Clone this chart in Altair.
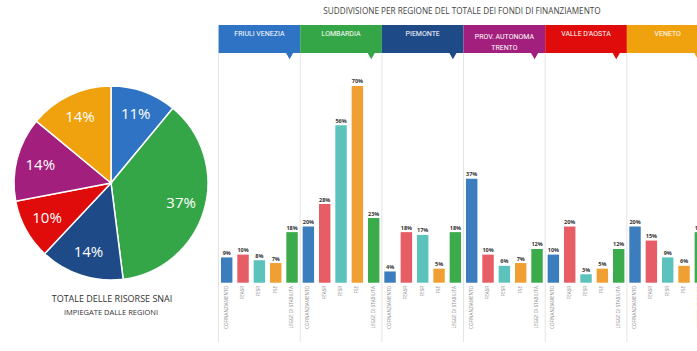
import altair as alt
import pandas as pd

# ---------------- data ----------------
regions = ["Friuli Venezia", "Lombardia", "Piemonte", "Prov. Autonoma Trento", "Valle d'Aosta", "Veneto"]
header_labels = ["FRIULI VENEZIA", "LOMBARDIA", "PIEMONTE", "PROV. AUTONOMA\nTRENTO", "VALLE D'AOSTA", "VENETO"]
categories = ["COFINANZIAMENTO", "FEASR", "FESR", "FSE", "LEGGE DI STABILITÀ"]

cofinanziamento = [9, 20, 4, 37, 10, 20]
feasr = [10, 28, 18, 10, 20, 15]
fesr = [8, 56, 17, 6, 3, 9]
fse = [7, 70, 5, 7, 5, 6]
legge_stabilita = [18, 23, 18, 12, 12, 18]

pie_regions = ["Friuli Venezia", "Lombardia", "Piemonte", "Valle d'Aosta", "Prov. Autonoma Trento", "Veneto"]
pie_shares = [11, 37, 14, 10, 14, 14]

title_text = "SUDDIVISIONE PER REGIONE DEL TOTALE DEI FONDI DI FINANZIAMENTO"
caption_lines = ["TOTALE DELLE RISORSE SNAI", "IMPIEGATE DALLE REGIONI"]

# ---------------- styles ----------------
region_colors = ["#2f74c4", "#35a647", "#1e4a88", "#a31f7d", "#e00b0b", "#f0a10e"]
category_colors = ["#3b7dbd", "#e65d66", "#5cc3bc", "#f0a032", "#3bab4b"]
FONT = "Open Sans"
HEAD_FONT = "Roboto"

series = [cofinanziamento, feasr, fesr, fse, legge_stabilita]
rows = []
for r, reg in enumerate(regions):
    for c, cat in enumerate(categories):
        rows.append({"region": reg, "category": cat, "value": series[c][r], "slot": r * 5 + c})
bars_df = pd.DataFrame(rows)

head_df = pd.DataFrame({
    "region": regions,
    "label": header_labels,
    "first": [i * 5 for i in range(len(regions))],
})

pie_df = pd.DataFrame({"region": pie_regions, "share": pie_shares, "ord": list(range(len(pie_regions)))})
title_df = pd.DataFrame({"t": [title_text]})
cap_df = pd.DataFrame({"t": caption_lines, "line": [0, 1]})

xs = alt.Scale(domain=[-13.88, 28.794], nice=False, zero=False)
ys = alt.Scale(domain=[-24.3, 100.6], nice=False, zero=False)
reg_scale = alt.Scale(domain=regions, range=region_colors)
cat_scale = alt.Scale(domain=categories, range=category_colors)

head_base = alt.Chart(head_df).transform_calculate(
    sep="datum.first - 0.5",
    hx="datum.first - 0.5",
    hx2="datum.first + 4.5",
    tri="datum.first + 3.85",
    hc="datum.first + 2",
)

separators = head_base.mark_rule(color="#e4e4e4", strokeWidth=1).encode(
    x=alt.X("sep:Q", scale=xs, axis=None),
    y=alt.value(53), y2=alt.value(342),
)

headers = head_base.mark_rect(clip=True).encode(
    x=alt.X("hx:Q", scale=xs, axis=None),
    x2="hx2:Q",
    y=alt.value(25), y2=alt.value(53),
    color=alt.Color("region:N", scale=reg_scale, legend=None),
)

triangles = head_base.mark_point(shape="triangle-down", filled=True, size=55, opacity=1, clip=True).encode(
    x=alt.X("tri:Q", scale=xs, axis=None),
    y=alt.value(56),
    color=alt.Color("region:N", scale=reg_scale, legend=None),
)

head_text1 = head_base.transform_filter("indexof(datum.label, '\\n') < 0").mark_text(
    color="white", fontSize=7, font=HEAD_FONT, baseline="middle", clip=True
).encode(
    x=alt.X("hc:Q", scale=xs, axis=None), y=alt.value(33.5), text="label:N"
)
head_text2 = head_base.transform_filter("indexof(datum.label, '\\n') >= 0").mark_text(
    color="white", fontSize=7, font=HEAD_FONT, baseline="middle", lineBreak="\n", lineHeight=10.5
).encode(
    x=alt.X("hc:Q", scale=xs, axis=None), y=alt.value(37), text="label:N"
)

bar_base = alt.Chart(bars_df).transform_calculate(
    x0="datum.slot - 0.35", x1="datum.slot + 0.35", lbl="datum.value + '%'"
)

bars = bar_base.mark_bar(clip=True).encode(
    x=alt.X("x0:Q", scale=xs, axis=None),
    x2="x1:Q",
    y=alt.Y("value:Q", scale=ys, axis=None),
    y2=alt.datum(0),
    color=alt.Color("category:N", scale=cat_scale, legend=None),
)

value_labels = bar_base.mark_text(
    fontSize=5.5, fontWeight="bold", color="#333", baseline="bottom", dy=-1.5, font=FONT, clip=True
).encode(
    x=alt.X("slot:Q", scale=xs, axis=None),
    y=alt.Y("value:Q", scale=ys, axis=None),
    text="lbl:N",
)

cat_labels = bar_base.mark_text(
    fontSize=4.6, color="#8a8a8a", angle=270, align="right", baseline="middle", font=FONT, clip=True
).encode(
    x=alt.X("slot:Q", scale=xs, axis=None),
    y=alt.value(286),
    text="category:N",
)

title = alt.Chart(title_df).mark_text(fontSize=8.2, color="#444", font=FONT, baseline="middle").encode(
    x=alt.value(462), y=alt.value(11.5), text="t:N"
)

pie = alt.Chart(pie_df).mark_arc(radius=97, stroke="white", strokeWidth=1.5).encode(
    theta=alt.Theta("share:Q", stack=True),
    order=alt.Order("ord:Q"),
    color=alt.Color("region:N", scale=reg_scale, legend=None),
    x=alt.value(111), y=alt.value(183),
)

pie_text = alt.Chart(pie_df).transform_calculate(lbl="datum.share + '%'").mark_text(
    radius=73, fontSize=15, color="white", font=FONT
).encode(
    theta=alt.Theta("share:Q", stack=True),
    order=alt.Order("ord:Q"),
    text="lbl:N",
    x=alt.value(111), y=alt.value(183),
)

cap1 = alt.Chart(cap_df).transform_filter("datum.line == 0").mark_text(
    fontSize=9, color="#333", font=FONT
).encode(x=alt.value(112), y=alt.value(299), text="t:N")
cap2 = alt.Chart(cap_df).transform_filter("datum.line == 1").mark_text(
    fontSize=7.5, color="#333", font=FONT
).encode(x=alt.value(111), y=alt.value(313), text="t:N")

chart = alt.layer(
    separators, headers, triangles, head_text1, head_text2,
    bars, value_labels, cat_labels, title, pie, pie_text, cap1, cap2
).resolve_scale(color="independent").properties(
    width=697, height=351, padding=0, autosize=alt.AutoSizeParams(type="none"),
    background="white",
).configure_view(stroke=None)

chart.save("out.html", embed_options={"renderer": "svg", "actions": False})
